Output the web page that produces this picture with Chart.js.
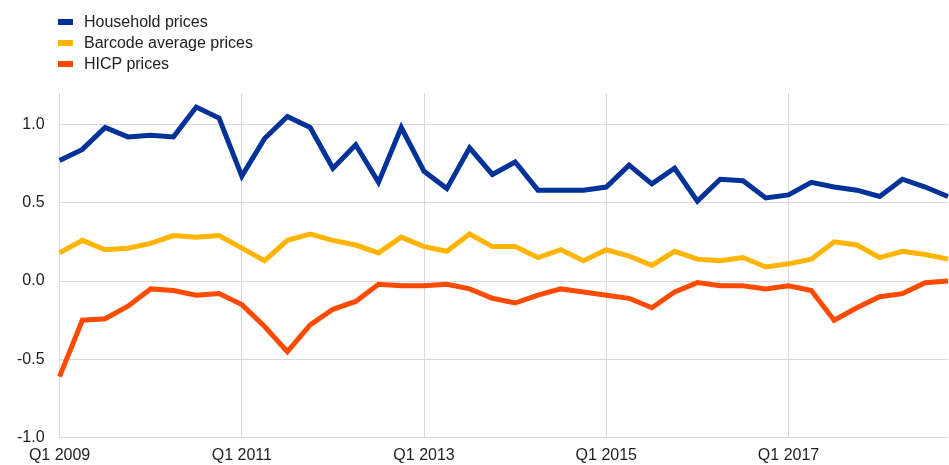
<!DOCTYPE html>
<html>
<head>
<meta charset="utf-8">
<script src="https://cdn.jsdelivr.net/npm/chart.js@4"></script>
<style>
  html, body { margin: 0; padding: 0; background: #fff; }
  #wrap { position: relative; width: 949px; height: 465px; overflow: hidden; }
  #chart { position: absolute; left: 0; top: 0; }
  #legend { position: absolute; left: 58px; top: 11px; font: 16px Arial, "Liberation Sans", sans-serif; color: #222; }
  .item { display: flex; align-items: center; height: 21px; }
  .swatch { width: 15px; height: 6px; margin-right: 11px; }
</style>
</head>
<body>
<div id="wrap">
  <canvas id="chart" width="956" height="473"></canvas>
  <div id="legend"></div>
</div>
<script>
// ==========================================
// DATA
// ==========================================

const quarters = [
  "Q1 2009", "Q2 2009", "Q3 2009", "Q4 2009",
  "Q1 2010", "Q2 2010", "Q3 2010", "Q4 2010",
  "Q1 2011", "Q2 2011", "Q3 2011", "Q4 2011",
  "Q1 2012", "Q2 2012", "Q3 2012", "Q4 2012",
  "Q1 2013", "Q2 2013", "Q3 2013", "Q4 2013",
  "Q1 2014", "Q2 2014", "Q3 2014", "Q4 2014",
  "Q1 2015", "Q2 2015", "Q3 2015", "Q4 2015",
  "Q1 2016", "Q2 2016", "Q3 2016", "Q4 2016",
  "Q1 2017", "Q2 2017", "Q3 2017", "Q4 2017",
  "Q1 2018", "Q2 2018", "Q3 2018", "Q4 2018",
];

const householdPrices = [
  0.77, 0.84, 0.98, 0.92, 0.93, 0.92, 1.11, 1.04,
  0.67, 0.91, 1.05, 0.98, 0.72, 0.87, 0.63, 0.98,
  0.70, 0.59, 0.85, 0.68, 0.76, 0.58, 0.58, 0.58,
  0.60, 0.74, 0.62, 0.72, 0.51, 0.65, 0.64, 0.53,
  0.55, 0.63, 0.60, 0.58, 0.54, 0.65, 0.60, 0.54,
];

const barcodePrices = [
  0.18, 0.26, 0.20, 0.21, 0.24, 0.29, 0.28, 0.29,
  0.21, 0.13, 0.26, 0.30, 0.26, 0.23, 0.18, 0.28,
  0.22, 0.19, 0.30, 0.22, 0.22, 0.15, 0.20, 0.13,
  0.20, 0.16, 0.10, 0.19, 0.14, 0.13, 0.15, 0.09,
  0.11, 0.14, 0.25, 0.23, 0.15, 0.19, 0.17, 0.14,
];

const hicpPrices = [
  -0.61, -0.25, -0.24, -0.16, -0.05, -0.06, -0.09, -0.08,
  -0.15, -0.29, -0.45, -0.28, -0.18, -0.13, -0.02, -0.03,
  -0.03, -0.02, -0.05, -0.11, -0.14, -0.09, -0.05, -0.07,
  -0.09, -0.11, -0.17, -0.07, -0.01, -0.03, -0.03, -0.05,
  -0.03, -0.06, -0.25, -0.17, -0.10, -0.08, -0.01, 0.00,
];

const yTicks = [-1.0, -0.5, 0.0, 0.5, 1.0];

// ==========================================
// CHART
// ==========================================

const FONT = "Arial, 'Liberation Sans', sans-serif";
const GRID = "#d9d9d9";

function makeSeries(label, data, color) {
  return {
    label: label,
    data: data,
    borderColor: color,
    backgroundColor: color,
    borderWidth: 5,
    pointRadius: 0,
    pointHoverRadius: 0,
    tension: 0,
    fill: false,
  };
}

const chart = new Chart(document.getElementById("chart"), {
  type: "line",
  data: {
    labels: quarters,
    datasets: [
      makeSeries("Household prices", householdPrices, "#003299"),
      makeSeries("Barcode average prices", barcodePrices, "#ffb400"),
      makeSeries("HICP prices", hicpPrices, "#ff4b00"),
    ],
  },
  options: {
    responsive: false,
    animation: false,
    layout: { padding: { top: 93, left: 2, right: 2, bottom: 0 } },
    plugins: {
      legend: { display: false },
      tooltip: { enabled: false },
    },
    scales: {
      x: {
        offset: false,
        grid: {
          drawTicks: false,
          color: (ctx) => (ctx.index % 8 === 0 ? GRID : "transparent"),
        },
        border: { display: false },
        ticks: {
          autoSkip: false,
          maxRotation: 0,
          padding: 8,
          color: "#222",
          font: { family: FONT, size: 16 },
          callback: function (value, index) {
            return index % 8 === 0 ? quarters[index] : "";
          },
        },
      },
      y: {
        min: -1,
        max: 1.2,
        afterBuildTicks: (axis) => {
          axis.ticks = yTicks.map((v) => ({ value: v }));
        },
        grid: { drawTicks: false, color: GRID },
        border: { display: true, color: GRID },
        ticks: {
          padding: 15,
          color: "#222",
          font: { family: FONT, size: 16 },
          callback: (value) => Number(value).toFixed(1),
        },
      },
    },
  },
});

// HTML legend, stacked vertically like the original
const legendEl = document.getElementById("legend");
chart.data.datasets.forEach((ds) => {
  const row = document.createElement("div");
  row.className = "item";
  const sw = document.createElement("span");
  sw.className = "swatch";
  sw.style.background = ds.borderColor;
  const txt = document.createElement("span");
  txt.textContent = ds.label;
  row.appendChild(sw);
  row.appendChild(txt);
  legendEl.appendChild(row);
});
</script>
</body>
</html>
